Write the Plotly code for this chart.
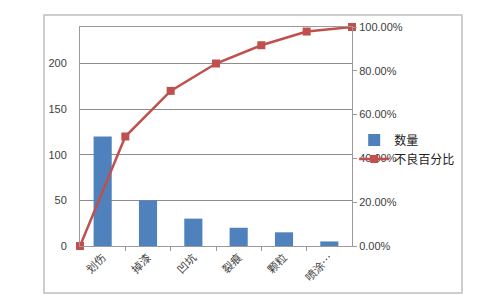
import plotly.graph_objects as go

categories = ["划伤", "掉漆", "凹坑", "裂痕", "颗粒", "喷涂…"]
counts = [120, 50, 30, 20, 15, 5]
cum_pct = [0.0, 0.50, 0.7083, 0.8333, 0.9167, 0.9792, 1.0]
left_ticks = [0, 50, 100, 150, 200]
right_ticks = [0, 0.2, 0.4, 0.6, 0.8, 1.0]

bar_x = [i + 0.5 for i in range(len(categories))]
line_x = list(range(len(cum_pct)))

fig = go.Figure()
fig.add_trace(go.Bar(
    x=bar_x, y=counts, name="数量", width=0.4,
    marker=dict(color="#4f81bd", line=dict(width=0)),
))
fig.add_trace(go.Scatter(
    x=line_x, y=cum_pct, name="不良百分比", yaxis="y2", mode="lines+markers",
    line=dict(color="#c0504d", width=2.5), cliponaxis=False,
    marker=dict(symbol="square", size=8, color="#c0504d"),
))

fig.update_layout(
    width=500, height=306,
    margin=dict(l=80, r=148, t=27, b=60),
    paper_bgcolor="white", plot_bgcolor="white",
    font=dict(family="Liberation Sans, Arial", size=11, color="#404040"),
    showlegend=True,
    legend=dict(x=1.008, y=0.55, xanchor="left", yanchor="top",
                bgcolor="rgba(0,0,0,0)", font=dict(family="Noto Sans CJK SC", size=12, color="#202020"),
                itemwidth=30, tracegroupgap=2),
    bargap=0.6,
    xaxis=dict(
        range=[0, 6], tickvals=bar_x, ticktext=categories, tickangle=-45,
        ticks="", showgrid=False, zeroline=False,
        showline=True, linecolor="#9a9a9a", linewidth=1, mirror=True,
        tickfont=dict(family="Noto Sans CJK SC", size=11, color="#404040"),
        minor=dict(tickvals=[1, 2, 3, 4, 5], ticks="outside", ticklen=4,
                   tickcolor="#9a9a9a", showgrid=False),
    ),
    yaxis=dict(
        range=[0, 240], tickvals=left_ticks, showgrid=True, gridcolor="#8c8c8c",
        gridwidth=1, zeroline=False, showline=True, linecolor="#9a9a9a",
        linewidth=1, mirror=True, ticks="", ticklabelstandoff=10,
    ),
    yaxis2=dict(
        range=[0, 1], tickvals=right_ticks, tickformat=".2%", overlaying="y",
        side="right", showgrid=False, zeroline=False, showline=True,
        linecolor="#9a9a9a", linewidth=1, ticks="outside", ticklen=4,
        tickcolor="#9a9a9a",
    ),
    shapes=[dict(type="rect", xref="paper", yref="paper",
                 x0=(44 - 80) / 272, x1=(462 - 80) / 272,
                 y0=(246 - 293) / 219, y1=(246 - 15) / 219,
                 line=dict(color="#bfbfbf", width=1.5), layer="below")],
)

fig.write_html("out.html")
